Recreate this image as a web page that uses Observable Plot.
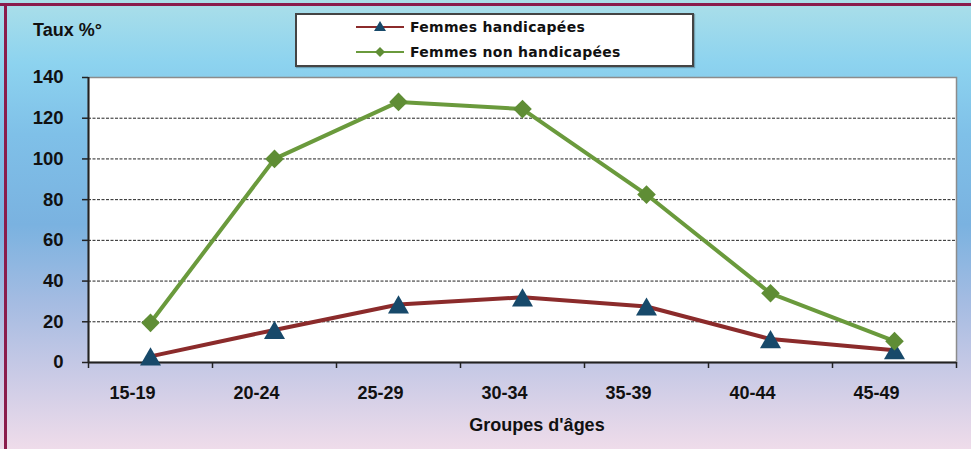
<!DOCTYPE html>
<html>
<head>
<meta charset="utf-8">
<script src="https://cdn.jsdelivr.net/npm/d3@7"></script>
<script src="https://cdn.jsdelivr.net/npm/@observablehq/plot@0.6"></script>
<style>
  html, body { margin: 0; padding: 0; background: #fff; }
  #chart {
    position: relative; width: 971px; height: 449px; overflow: hidden;
    background: linear-gradient(to bottom, #abdfe9 0%, #8dd3ef 14%, #7fc0e8 30%, #7ab2e0 50%, #a6bce2 68%, #cbcbe6 84%, #efdcea 100%);
    font-family: "Liberation Sans", Arial, sans-serif; font-weight: bold; color: #111;
  }
  #frameTop { position: absolute; left: 0; top: 3px; width: 971px; height: 3px; background: #8a1c4c; }
  #frameLeft { position: absolute; left: 4px; top: 3px; width: 3px; height: 446px; background: #8a1c4c; }
  #legend {
    position: absolute; left: 295px; top: 13px; width: 395px; height: 50px;
    background: #fff; border: 2px solid #444; box-shadow: 1px 1px 1px rgba(0,0,0,0.25);
    font-family: "DejaVu Sans", sans-serif;
  }
  .lrow { position: absolute; left: 58px; display: flex; align-items: center; font-size: 14px; letter-spacing: 0.3px; }
  .lrow svg { margin-right: 5px; }
  #ylab { position: absolute; left: 33px; top: 20px; font-size: 18px; }
  #xlab { position: absolute; left: 0; width: 1074px; top: 415px; text-align: center; font-size: 18px; }
  #chart svg.plot { position: absolute; left: 0; top: 0; }
</style>
</head>
<body>
<div id="chart">
  <div id="frameTop"></div>
  <div id="frameLeft"></div>
  <div id="ylab">Taux %°</div>
  <div id="xlab">Groupes d'âges</div>
  <div id="legend">
    <div class="lrow" style="top:3px">
      <svg width="50" height="18"><line x1="1" y1="9" x2="49" y2="9" stroke="#8b2b2b" stroke-width="2"/><path d="M25,3 L31,13 L19,13 Z" fill="#17496a"/></svg>
      <span>Femmes handicapées</span>
    </div>
    <div class="lrow" style="top:28px">
      <svg width="50" height="18"><line x1="1" y1="9" x2="49" y2="9" stroke="#6a9a3c" stroke-width="2"/><path d="M25,4 L30,9 L25,14 L20,9 Z" fill="#5f8d35"/></svg>
      <span>Femmes non handicapées</span>
    </div>
  </div>
</div>
<script>
const ages = ["15-19", "20-24", "25-29", "30-34", "35-39", "40-44", "45-49"];
const handicapees = [3, 16, 28.5, 32, 27.5, 11.5, 6];
const nonHandicapees = [19.5, 100, 128, 124.5, 82.5, 34, 10.5];
const yTicks = [0, 20, 40, 60, 80, 100, 120, 140];

const rowsH = ages.map((a, i) => ({age: a, pos: i + 0.5, value: handicapees[i]}));
const rowsN = ages.map((a, i) => ({age: a, pos: i + 0.5, value: nonHandicapees[i]}));
const boundaries = d3.range(0, ages.length + 1);
const centers = ages.map((a, i) => i + 0.5);

const chart = Plot.plot({
  width: 971,
  height: 449,
  marginLeft: 88,
  marginRight: 15,
  marginTop: 77,
  marginBottom: 87,
  x: {type: "linear", domain: [0, ages.length], axis: null},
  y: {domain: [0, 140], axis: null},
  style: {background: "transparent", fontFamily: "Liberation Sans, Arial, sans-serif", fontWeight: "bold", fontSize: "17px", color: "#111"},
  marks: [
    Plot.frame({fill: "white", stroke: "#8c8c8c", strokeWidth: 1.5}),
    Plot.gridY(yTicks.filter(v => v > 0 && v < 140), {stroke: "#222", strokeOpacity: 1, strokeDasharray: "3,1.5"}),
    Plot.axisY(yTicks, {tickSize: 6, tickPadding: 19, stroke: "#222", strokeWidth: 1.5, label: null, fontSize: 18.5, fontWeight: "bold", fill: "#111"}),
    Plot.axisX(boundaries, {tickSize: 6, tickFormat: () => "", stroke: "#222", strokeWidth: 1.5, label: null}),
    Plot.axisX(centers, {tickSize: 0, tickPadding: 24, dx: -18, tickFormat: d => ages[Math.floor(d)], label: null, fontSize: 18, fontWeight: "bold", fill: "#111"}),
    Plot.ruleX([0], {stroke: "#222", strokeWidth: 2}),
    Plot.ruleY([0], {stroke: "#222", strokeWidth: 2}),
    Plot.line(rowsH, {x: "pos", y: "value", stroke: "#8b2b2b", strokeWidth: 4}),
    Plot.line(rowsN, {x: "pos", y: "value", stroke: "#6a9a3c", strokeWidth: 4}),
    Plot.dot(rowsH, {x: "pos", y: "value", symbol: "triangle", r: 7.8, dy: 3, fill: "#17496a", stroke: "none"}),
    Plot.dot(rowsN, {x: "pos", y: "value", symbol: "diamond2", r: 8.4, fill: "#5f8d35", stroke: "none"})
  ]
});
chart.classList.add("plot");
document.getElementById("chart").appendChild(chart);
</script>
</body>
</html>
